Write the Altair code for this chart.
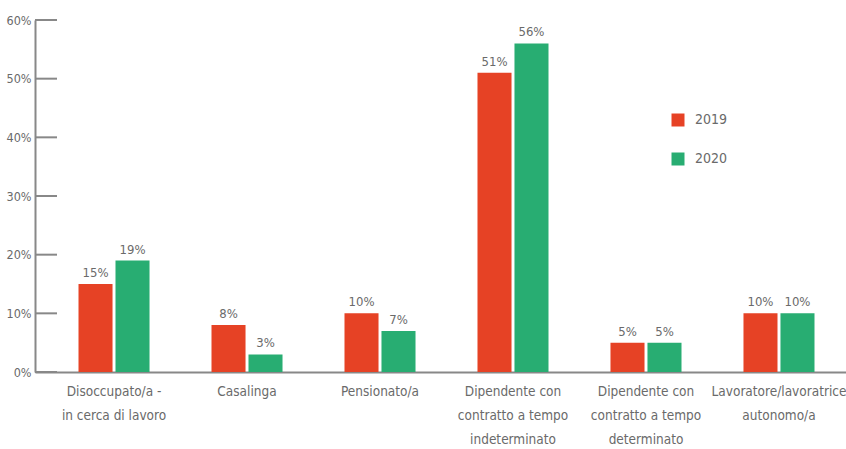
import altair as alt
import pandas as pd

categories = [
    "Disoccupato/a -|in cerca di lavoro",
    "Casalinga",
    "Pensionato/a",
    "Dipendente con|contratto a tempo|indeterminato",
    "Dipendente con|contratto a tempo|determinato",
    "Lavoratore/lavoratrice|autonomo/a",
]
years = ["2019", "2020"]
values_2019 = [15, 8, 10, 51, 5, 10]
values_2020 = [19, 3, 7, 56, 5, 10]
y_ticks = [0, 10, 20, 30, 40, 50, 60]
colors = ["#E64225", "#28AD72"]

rows = []
for c, a, b in zip(categories, values_2019, values_2020):
    rows.append({"cat": c, "year": "2019", "v": a})
    rows.append({"cat": c, "year": "2020", "v": b})
df = pd.DataFrame(rows)
ticks_df = pd.DataFrame({"t": y_ticks})

FONT = "Liberation Sans Narrow, DejaVu Sans Condensed, sans-serif"
GRAY = "#6a6a6a"

x_enc = alt.X(
    "cat:N", sort=categories, title=None,
    scale=alt.Scale(paddingInner=0.466, paddingOuter=0.282, align=0.58),
    axis=alt.Axis(
        labelAngle=0, labelExpr="split(datum.label, '|')",
        labelFont=FONT, labelFontSize=13.5, labelColor=GRAY,
        labelLineHeight=24, labelPadding=12, ticks=False, labelLimit=300,
        domainColor="#888888", domainWidth=2, labelBaseline="top",
    ),
)
y_scale = alt.Scale(domain=[0, 60], nice=False)

bars = alt.Chart(df).mark_bar().encode(
    x=x_enc,
    xOffset=alt.XOffset("year:N", sort=years, scale=alt.Scale(paddingInner=0.08)),
    y=alt.Y("v:Q", scale=y_scale, title=None,
            axis=alt.Axis(values=y_ticks, labelExpr="datum.value + '%'",
                          labelFont=FONT, labelFontSize=12.5, labelColor=GRAY,
                          ticks=False, grid=False, domainColor="#888888",
                          domainWidth=2, labelPadding=4)),
    color=alt.Color("year:N", sort=years, title=None,
                    scale=alt.Scale(domain=years, range=colors),
                    legend=alt.Legend(orient="none", legendX=636, legendY=93,
                                      symbolType="square", symbolSize=169,
                                      symbolStrokeWidth=0, rowPadding=25,
                                      labelFont=FONT, labelFontSize=14,
                                      labelColor=GRAY, labelOffset=10)),
)

labels = alt.Chart(df).mark_text(
    baseline="bottom", dy=-4, font=FONT, fontSize=13, color=GRAY
).encode(
    x=alt.X("cat:N", sort=categories),
    xOffset=alt.XOffset("year:N", sort=years),
    y=alt.Y("v:Q", scale=y_scale),
    text=alt.Text("label:N"),
).transform_calculate(label="datum.v + '%'")

tick_rules = alt.Chart(ticks_df).mark_rule(color="#888888", strokeWidth=2).encode(
    y=alt.Y("t:Q", scale=y_scale),
    x=alt.value(0),
    x2=alt.value(22),
)

chart = alt.layer(tick_rules, bars, labels).properties(
    width=811, height=352,
    background="white",
    autosize=alt.AutoSizeParams(type="none"),
    padding={"left": 35, "top": 20, "right": 0, "bottom": 77},
).configure_view(stroke=None)

chart.save("out.html", embed_options={"renderer": "svg", "actions": False})
